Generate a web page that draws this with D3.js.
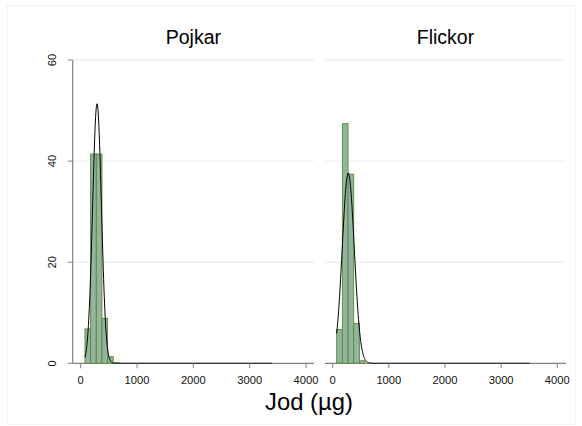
<!DOCTYPE html>
<html>
<head>
<meta charset="utf-8">
<script src="https://cdn.jsdelivr.net/npm/d3@7"></script>
<style>
  html, body { margin: 0; padding: 0; background: #fff; }
  svg { display: block; font-family: Arial, "Liberation Sans", sans-serif; }
</style>
</head>
<body>
<svg id="chart" width="582" height="426"></svg>
<script>
// ---- data ----
const panels = ["Pojkar", "Flickor"];
const binStart = [76, 71];
const binEnd = [3390, 3505];
// percent per bin (Stata-style histogram, ~100 µg bins)
const pojkarPercent = [6.8, 41.4, 41.4, 8.9, 1.3, 0.1, 0, 0, 0, 0, 0, 0, 0, 0, 0, 0, 0, 0, 0, 0, 0, 0, 0, 0, 0, 0, 0, 0, 0, 0, 0, 0, 0];
const flickorPercent = [6.7, 47.4, 37.4, 7.9, 0.5, 0, 0, 0, 0, 0, 0, 0, 0, 0, 0, 0, 0, 0, 0, 0, 0, 0, 0, 0, 0, 0, 0, 0, 0, 0, 0, 0, 0, 0];
const normalMean = [290, 277];
const normalSD = [78, 107];
const xTicks = [0, 1000, 2000, 3000, 4000];
const yTicks = [0, 20, 40, 60];
const xLabel = "Jod (µg)";

const series = [pojkarPercent, flickorPercent];

const svg = d3.select("#chart");

// faint outer frame
svg.append("rect").attr("x", 7.5).attr("y", 5.5).attr("width", 568).attr("height", 419)
  .attr("fill", "none").attr("stroke", "#eef3f5").attr("stroke-width", 1);

const y = d3.scaleLinear().domain([0, 60]).range([363.3, 60]);

const panelGeom = [
  { x0: 80.7, x1: 306.0, lineL: 72.7, lineR: 314 },
  { x0: 332.7, x1: 557.3, lineL: 325, lineR: 566 }
];

panels.forEach((name, i) => {
  const g = svg.append("g");
  const pg = panelGeom[i];
  const x = d3.scaleLinear().domain([0, 4000]).range([pg.x0, pg.x1]);
  const axisY = y(0);

  // gridlines
  g.selectAll(".grid").data(yTicks.filter(v => v > 0)).enter().append("line")
    .attr("x1", pg.lineL).attr("x2", pg.lineR)
    .attr("y1", d => y(d)).attr("y2", d => y(d))
    .attr("stroke", "#e2edf1").attr("stroke-width", 1);

  // x axis line (drawn beneath marks)
  g.append("line").attr("x1", pg.lineL).attr("x2", pg.lineR)
    .attr("y1", axisY).attr("y2", axisY).attr("stroke", "#808080").attr("stroke-width", 1.2);

  // bars
  const vals = series[i];
  const w = (binEnd[i] - binStart[i]) / vals.length;
  g.selectAll(".bar").data(vals).enter().append("rect")
    .attr("x", (d, k) => x(binStart[i] + k * w))
    .attr("width", (d, k) => x(binStart[i] + (k + 1) * w) - x(binStart[i] + k * w))
    .attr("y", d => y(d))
    .attr("height", d => y(0) - y(d))
    .attr("fill", "#93b3a3")
    .attr("stroke", "#5a8a2c")
    .attr("stroke-width", 0.9);

  // normal density (scaled to percent per bin)
  const m = normalMean[i], s = normalSD[i];
  const pts = d3.range(0, 601).map(k => {
    const v = binStart[i] + (binEnd[i] - binStart[i]) * k / 600;
    const dens = Math.exp(-0.5 * ((v - m) / s) ** 2) / (s * Math.sqrt(2 * Math.PI));
    return [v, dens * w * 100];
  });
  g.append("path").datum(pts)
    .attr("d", d3.line().x(d => x(d[0])).y(d => y(d[1])))
    .attr("fill", "none").attr("stroke", "#000").attr("stroke-width", 1);

  // x ticks
  g.selectAll(".xt").data(xTicks).enter().append("line")
    .attr("x1", d => x(d)).attr("x2", d => x(d))
    .attr("y1", axisY).attr("y2", axisY + 5)
    .attr("stroke", "#808080").attr("stroke-width", 1);
  g.selectAll(".xl").data(xTicks).enter().append("text")
    .attr("x", d => x(d)).attr("y", 383.5)
    .attr("text-anchor", "middle").attr("font-size", 11.2).attr("fill", "#111")
    .text(d => d);

  // title
  g.append("text").attr("x", (pg.lineL + pg.lineR) / 2).attr("y", 44)
    .attr("text-anchor", "middle").attr("font-size", 19.5).attr("fill", "#000")
    .text(name);

  // y axis only on left panel
  if (i === 0) {
    g.append("line").attr("x1", pg.lineL).attr("x2", pg.lineL)
      .attr("y1", y(60)).attr("y2", axisY).attr("stroke", "#808080").attr("stroke-width", 1.2);
    g.selectAll(".yt").data(yTicks).enter().append("line")
      .attr("x1", pg.lineL - 5).attr("x2", pg.lineL)
      .attr("y1", d => y(d)).attr("y2", d => y(d))
      .attr("stroke", "#808080").attr("stroke-width", 1);
    g.selectAll(".yl").data(yTicks).enter().append("text")
      .attr("transform", d => `translate(56,${y(d)}) rotate(-90)`)
      .attr("text-anchor", "middle").attr("font-size", 11.2).attr("fill", "#111")
      .text(d => d);
  }
});

svg.append("text").attr("x", 309).attr("y", 410)
  .attr("text-anchor", "middle").attr("font-size", 23.8).attr("fill", "#000")
  .text(xLabel);
</script>
</body>
</html>
